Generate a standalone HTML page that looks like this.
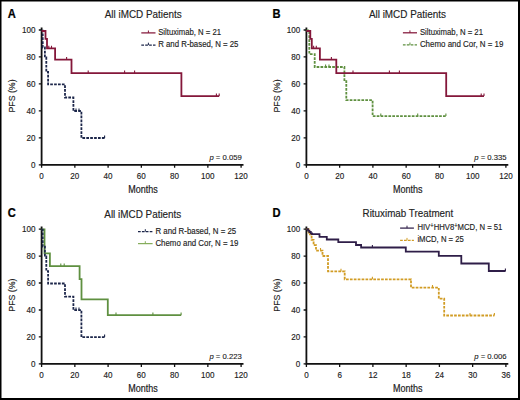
<!DOCTYPE html>
<html><head><meta charset="utf-8"><style>
html,body{margin:0;padding:0;background:#fff;}
svg{display:block;}
text{font-family:"Liberation Sans",sans-serif;fill:#222;stroke:#222;stroke-width:0.15px;}
.tk{font-size:8.8px;}
.lg{font-size:8.8px;}
.pv{font-size:8.0px;stroke-width:0.12px;}
.tt{font-size:10.8px;}
.ax{font-size:10.2px;stroke-width:0.2px;}
.ax2{font-size:9.6px;stroke-width:0.15px;}
.pl{font-size:12.4px;font-weight:bold;fill:#000;stroke:#000;stroke-width:0.25px;}
</style></head><body>
<svg width="520" height="400" viewBox="0 0 520 400">
<rect x="0" y="0" width="520" height="400" fill="#fff"/>
<text transform="translate(7.7 17.6) scale(0.9 1)" class="pl">A</text>
<text x="143.2" y="18.2" class="tt" text-anchor="middle" textLength="77" lengthAdjust="spacingAndGlyphs">All iMCD Patients</text>
<path d="M41.6 27.4 V164.8 H243.5" fill="none" stroke="#111" stroke-width="1.8"/>
<path d="M38.8 164.8 H41.6 M38.8 137.84 H41.6 M38.8 110.88 H41.6 M38.8 83.92 H41.6 M38.8 56.96 H41.6 M38.8 30 H41.6 M41.6 164.8 V167.8 M74.85 164.8 V167.8 M108.1 164.8 V167.8 M141.35 164.8 V167.8 M174.6 164.8 V167.8 M207.85 164.8 V167.8 M241.1 164.8 V167.8 " stroke="#111" stroke-width="1.3" fill="none"/>
<text transform="translate(35.4 167.8) scale(0.92 1)" class="tk" text-anchor="end">0</text>
<text transform="translate(35.4 140.84) scale(0.92 1)" class="tk" text-anchor="end">20</text>
<text transform="translate(35.4 113.88) scale(0.92 1)" class="tk" text-anchor="end">40</text>
<text transform="translate(35.4 86.92) scale(0.92 1)" class="tk" text-anchor="end">60</text>
<text transform="translate(35.4 59.96) scale(0.92 1)" class="tk" text-anchor="end">80</text>
<text transform="translate(35.4 33) scale(0.92 1)" class="tk" text-anchor="end">100</text>
<text transform="translate(41.6 178.8) scale(0.92 1)" class="tk" text-anchor="middle">0</text>
<text transform="translate(74.85 178.8) scale(0.92 1)" class="tk" text-anchor="middle">20</text>
<text transform="translate(108.1 178.8) scale(0.92 1)" class="tk" text-anchor="middle">40</text>
<text transform="translate(141.35 178.8) scale(0.92 1)" class="tk" text-anchor="middle">60</text>
<text transform="translate(174.6 178.8) scale(0.92 1)" class="tk" text-anchor="middle">80</text>
<text transform="translate(207.85 178.8) scale(0.92 1)" class="tk" text-anchor="middle">100</text>
<text transform="translate(241.1 178.8) scale(0.92 1)" class="tk" text-anchor="middle">120</text>
<text x="143" y="193" class="ax" text-anchor="middle" textLength="29.5" lengthAdjust="spacingAndGlyphs">Months</text>
<text transform="translate(15.4 96) rotate(-90)" class="ax2" text-anchor="middle" textLength="33.2" lengthAdjust="spacingAndGlyphs">PFS (%)</text>
<text x="241.8" y="160.2" class="pv" text-anchor="end" textLength="32.4" lengthAdjust="spacingAndGlyphs"><tspan font-style="italic">p</tspan> = 0.059</text>
<path d="M41.6 30.6 L42.7 30.6 L42.7 47.5 L44.9 47.5 L44.9 57.3 L46.3 57.3 L46.3 72 L48.1 72 L48.1 84.4 L65 84.4 L65 97.5 L73.4 97.5 L73.4 111 L81.4 111 L81.4 138 L105 138" fill="none" stroke="#1c264a" stroke-width="1.8" stroke-dasharray="2.7 1.2"/>
<path d="M76 111 V108.4 M79 111 V108.4 M104.6 138 V135.4 " fill="none" stroke="#1c264a" stroke-width="1.1"/>
<path d="M41.6 31 L45.5 31 L45.5 38.9 L47 38.9 L47 48.3 L55.1 48.3 L55.1 59.6 L71.5 59.6 L71.5 73.1 L181.4 73.1 L181.4 96.1 L219.2 96.1" fill="none" stroke="#84173a" stroke-width="1.8"/>
<path d="M48.8 48.3 V45.7 M51.5 48.3 V45.7 M66.6 59.6 V57 M88.2 73.1 V70.5 M124.6 73.1 V70.5 M134.6 73.1 V70.5 M216.4 96.1 V93.5 M219.2 96.1 V93.5 " fill="none" stroke="#84173a" stroke-width="1.1"/>
<path d="M141.3 32.9 H155.5" stroke="#84173a" stroke-width="1.25"/>
<path d="M148.4 32.9 V30.5" stroke="#84173a" stroke-width="1"/>
<text x="158.2" y="35" class="lg" textLength="62.8" lengthAdjust="spacingAndGlyphs">Siltuximab, N = 21</text>
<path d="M141.3 45.1 H155.5" stroke="#1c264a" stroke-width="1.25" stroke-dasharray="2.7 1.2"/>
<path d="M148.4 45.1 V42.7" stroke="#1c264a" stroke-width="1"/>
<text x="158.2" y="47.2" class="lg" textLength="80.3" lengthAdjust="spacingAndGlyphs">R and R-based, N = 25</text>
<text transform="translate(272.6 17.6) scale(0.9 1)" class="pl">B</text>
<text x="407.4" y="18.2" class="tt" text-anchor="middle" textLength="77" lengthAdjust="spacingAndGlyphs">All iMCD Patients</text>
<path d="M306.4 27.4 V164.8 H508.3" fill="none" stroke="#111" stroke-width="1.8"/>
<path d="M303.6 164.8 H306.4 M303.6 137.84 H306.4 M303.6 110.88 H306.4 M303.6 83.92 H306.4 M303.6 56.96 H306.4 M303.6 30 H306.4 M306.4 164.8 V167.8 M339.65 164.8 V167.8 M372.9 164.8 V167.8 M406.15 164.8 V167.8 M439.4 164.8 V167.8 M472.65 164.8 V167.8 M505.9 164.8 V167.8 " stroke="#111" stroke-width="1.3" fill="none"/>
<text transform="translate(300.2 167.8) scale(0.92 1)" class="tk" text-anchor="end">0</text>
<text transform="translate(300.2 140.84) scale(0.92 1)" class="tk" text-anchor="end">20</text>
<text transform="translate(300.2 113.88) scale(0.92 1)" class="tk" text-anchor="end">40</text>
<text transform="translate(300.2 86.92) scale(0.92 1)" class="tk" text-anchor="end">60</text>
<text transform="translate(300.2 59.96) scale(0.92 1)" class="tk" text-anchor="end">80</text>
<text transform="translate(300.2 33) scale(0.92 1)" class="tk" text-anchor="end">100</text>
<text transform="translate(306.4 178.8) scale(0.92 1)" class="tk" text-anchor="middle">0</text>
<text transform="translate(339.65 178.8) scale(0.92 1)" class="tk" text-anchor="middle">20</text>
<text transform="translate(372.9 178.8) scale(0.92 1)" class="tk" text-anchor="middle">40</text>
<text transform="translate(406.15 178.8) scale(0.92 1)" class="tk" text-anchor="middle">60</text>
<text transform="translate(439.4 178.8) scale(0.92 1)" class="tk" text-anchor="middle">80</text>
<text transform="translate(472.65 178.8) scale(0.92 1)" class="tk" text-anchor="middle">100</text>
<text transform="translate(505.9 178.8) scale(0.92 1)" class="tk" text-anchor="middle">120</text>
<text x="407.8" y="193" class="ax" text-anchor="middle" textLength="29.5" lengthAdjust="spacingAndGlyphs">Months</text>
<text transform="translate(280.2 96) rotate(-90)" class="ax2" text-anchor="middle" textLength="33.2" lengthAdjust="spacingAndGlyphs">PFS (%)</text>
<text x="506.6" y="160.2" class="pv" text-anchor="end" textLength="32.4" lengthAdjust="spacingAndGlyphs"><tspan font-style="italic">p</tspan> = 0.335</text>
<path d="M306.4 30.4 L309.3 30.4 L309.3 54.2 L314.7 54.2 L314.7 67 L344.4 67 L344.4 80 L346.3 80 L346.3 100.2 L372.6 100.2 L372.6 116.1 L445.9 116.1" fill="none" stroke="#5f9040" stroke-width="1.8" stroke-dasharray="2.7 1.2"/>
<path d="M325.6 67 V64.4 M329 67 V64.4 M380.8 116.1 V113.5 M417.7 116.1 V113.5 M445.9 116.1 V113.5 " fill="none" stroke="#5f9040" stroke-width="1.1"/>
<path d="M306.4 31 L310.3 31 L310.3 38.9 L311.8 38.9 L311.8 48.3 L319.9 48.3 L319.9 59.6 L336.3 59.6 L336.3 73.1 L446.2 73.1 L446.2 96.1 L484 96.1" fill="none" stroke="#84173a" stroke-width="1.8"/>
<path d="M313.6 48.3 V45.7 M316.3 48.3 V45.7 M331.4 59.6 V57 M353 73.1 V70.5 M389.4 73.1 V70.5 M399.4 73.1 V70.5 M481.2 96.1 V93.5 M484 96.1 V93.5 " fill="none" stroke="#84173a" stroke-width="1.1"/>
<path d="M402.9 32.8 H417" stroke="#84173a" stroke-width="1.25"/>
<path d="M409.95 32.8 V30.4" stroke="#84173a" stroke-width="1"/>
<text x="419.9" y="34.9" class="lg" textLength="63.1" lengthAdjust="spacingAndGlyphs">Siltuximab, N = 21</text>
<path d="M402.9 44.9 H417" stroke="#5f9040" stroke-width="1.25" stroke-dasharray="2.7 1.2"/>
<path d="M409.95 44.9 V42.5" stroke="#5f9040" stroke-width="1"/>
<text x="419.9" y="47" class="lg" textLength="83.5" lengthAdjust="spacingAndGlyphs">Chemo and Cor, N = 19</text>
<text transform="translate(7.8 216.7) scale(0.9 1)" class="pl">C</text>
<text x="142.8" y="217.7" class="tt" text-anchor="middle" textLength="77" lengthAdjust="spacingAndGlyphs">All iMCD Patients</text>
<path d="M41.6 226.5 V363.9 H243.5" fill="none" stroke="#111" stroke-width="1.8"/>
<path d="M38.8 363.9 H41.6 M38.8 336.94 H41.6 M38.8 309.98 H41.6 M38.8 283.02 H41.6 M38.8 256.06 H41.6 M38.8 229.1 H41.6 M41.6 363.9 V366.9 M74.85 363.9 V366.9 M108.1 363.9 V366.9 M141.35 363.9 V366.9 M174.6 363.9 V366.9 M207.85 363.9 V366.9 M241.1 363.9 V366.9 " stroke="#111" stroke-width="1.3" fill="none"/>
<text transform="translate(35.4 366.9) scale(0.92 1)" class="tk" text-anchor="end">0</text>
<text transform="translate(35.4 339.94) scale(0.92 1)" class="tk" text-anchor="end">20</text>
<text transform="translate(35.4 312.98) scale(0.92 1)" class="tk" text-anchor="end">40</text>
<text transform="translate(35.4 286.02) scale(0.92 1)" class="tk" text-anchor="end">60</text>
<text transform="translate(35.4 259.06) scale(0.92 1)" class="tk" text-anchor="end">80</text>
<text transform="translate(35.4 232.1) scale(0.92 1)" class="tk" text-anchor="end">100</text>
<text transform="translate(41.6 377.9) scale(0.92 1)" class="tk" text-anchor="middle">0</text>
<text transform="translate(74.85 377.9) scale(0.92 1)" class="tk" text-anchor="middle">20</text>
<text transform="translate(108.1 377.9) scale(0.92 1)" class="tk" text-anchor="middle">40</text>
<text transform="translate(141.35 377.9) scale(0.92 1)" class="tk" text-anchor="middle">60</text>
<text transform="translate(174.6 377.9) scale(0.92 1)" class="tk" text-anchor="middle">80</text>
<text transform="translate(207.85 377.9) scale(0.92 1)" class="tk" text-anchor="middle">100</text>
<text transform="translate(241.1 377.9) scale(0.92 1)" class="tk" text-anchor="middle">120</text>
<text x="143" y="392.1" class="ax" text-anchor="middle" textLength="29.5" lengthAdjust="spacingAndGlyphs">Months</text>
<text transform="translate(15.4 295.1) rotate(-90)" class="ax2" text-anchor="middle" textLength="33.2" lengthAdjust="spacingAndGlyphs">PFS (%)</text>
<text x="241.8" y="359.3" class="pv" text-anchor="end" textLength="32.4" lengthAdjust="spacingAndGlyphs"><tspan font-style="italic">p</tspan> = 0.223</text>
<path d="M41.6 229.5 L44.5 229.5 L44.5 253.3 L49.9 253.3 L49.9 266.1 L79.6 266.1 L79.6 279.1 L81.5 279.1 L81.5 299.3 L107.8 299.3 L107.8 315.2 L181.1 315.2" fill="none" stroke="#5f9040" stroke-width="1.8"/>
<path d="M60.8 266.1 V263.5 M64.2 266.1 V263.5 M116 315.2 V312.6 M152.9 315.2 V312.6 M181.1 315.2 V312.6 " fill="none" stroke="#5f9040" stroke-width="1.1"/>
<path d="M41.6 229.7 L42.7 229.7 L42.7 246.6 L44.9 246.6 L44.9 256.4 L46.3 256.4 L46.3 271.1 L48.1 271.1 L48.1 283.5 L65 283.5 L65 296.6 L73.4 296.6 L73.4 310.1 L81.4 310.1 L81.4 337.1 L105 337.1" fill="none" stroke="#1c264a" stroke-width="1.8" stroke-dasharray="2.7 1.2"/>
<path d="M76 310.1 V307.5 M79 310.1 V307.5 M104.6 337.1 V334.5 " fill="none" stroke="#1c264a" stroke-width="1.1"/>
<path d="M138 231.6 H152.6" stroke="#1c264a" stroke-width="1.25" stroke-dasharray="2.7 1.2"/>
<path d="M145.3 231.6 V229.2" stroke="#1c264a" stroke-width="1"/>
<text x="155.4" y="233.7" class="lg" textLength="80.8" lengthAdjust="spacingAndGlyphs">R and R-based, N = 25</text>
<path d="M138 243.6 H152.6" stroke="#86ad5c" stroke-width="1.25"/>
<path d="M145.3 243.6 V241.2" stroke="#86ad5c" stroke-width="1"/>
<text x="155.4" y="245.7" class="lg" textLength="83.1" lengthAdjust="spacingAndGlyphs">Chemo and Cor, N = 19</text>
<text transform="translate(272.4 216.7) scale(0.9 1)" class="pl">D</text>
<text x="407.9" y="217.3" class="tt" text-anchor="middle" textLength="90.7" lengthAdjust="spacingAndGlyphs">Rituximab Treatment</text>
<path d="M306.4 226.5 V363.9 H508.3" fill="none" stroke="#111" stroke-width="1.8"/>
<path d="M303.6 363.9 H306.4 M303.6 336.94 H306.4 M303.6 309.98 H306.4 M303.6 283.02 H306.4 M303.6 256.06 H306.4 M303.6 229.1 H306.4 M306.4 363.9 V366.9 M339.65 363.9 V366.9 M372.9 363.9 V366.9 M406.15 363.9 V366.9 M439.4 363.9 V366.9 M472.65 363.9 V366.9 M505.9 363.9 V366.9 " stroke="#111" stroke-width="1.3" fill="none"/>
<text transform="translate(300.2 366.9) scale(0.92 1)" class="tk" text-anchor="end">0</text>
<text transform="translate(300.2 339.94) scale(0.92 1)" class="tk" text-anchor="end">20</text>
<text transform="translate(300.2 312.98) scale(0.92 1)" class="tk" text-anchor="end">40</text>
<text transform="translate(300.2 286.02) scale(0.92 1)" class="tk" text-anchor="end">60</text>
<text transform="translate(300.2 259.06) scale(0.92 1)" class="tk" text-anchor="end">80</text>
<text transform="translate(300.2 232.1) scale(0.92 1)" class="tk" text-anchor="end">100</text>
<text transform="translate(306.4 377.9) scale(0.92 1)" class="tk" text-anchor="middle">0</text>
<text transform="translate(339.65 377.9) scale(0.92 1)" class="tk" text-anchor="middle">6</text>
<text transform="translate(372.9 377.9) scale(0.92 1)" class="tk" text-anchor="middle">12</text>
<text transform="translate(406.15 377.9) scale(0.92 1)" class="tk" text-anchor="middle">18</text>
<text transform="translate(439.4 377.9) scale(0.92 1)" class="tk" text-anchor="middle">24</text>
<text transform="translate(472.65 377.9) scale(0.92 1)" class="tk" text-anchor="middle">30</text>
<text transform="translate(505.9 377.9) scale(0.92 1)" class="tk" text-anchor="middle">36</text>
<text x="407.8" y="392.1" class="ax" text-anchor="middle" textLength="29.5" lengthAdjust="spacingAndGlyphs">Months</text>
<text transform="translate(280.2 295.1) rotate(-90)" class="ax2" text-anchor="middle" textLength="33.2" lengthAdjust="spacingAndGlyphs">PFS (%)</text>
<text x="506.6" y="359.3" class="pv" text-anchor="end" textLength="32.4" lengthAdjust="spacingAndGlyphs"><tspan font-style="italic">p</tspan> = 0.006</text>
<path d="M306.4 229.2 L308.6 229.2 L308.6 234.4 L311.6 234.4 L311.6 239.8 L313.6 239.8 L313.6 245.2 L316 245.2 L316 250.6 L322.5 250.6 L322.5 256 L328 256 L328 271.4 L344.7 271.4 L344.7 279.3 L411 279.3 L411 287.6 L438.8 287.6 L438.8 298.6 L444.2 298.6 L444.2 315.5 L494.4 315.5" fill="none" stroke="#d19c24" stroke-width="1.8" stroke-dasharray="2.7 1.2"/>
<path d="M320.5 250.6 V248 M341 271.4 V268.8 M372.4 279.3 V276.7 M432.5 287.6 V285 M470 315.5 V312.9 M494.4 315.5 V312.9 " fill="none" stroke="#d19c24" stroke-width="1.1"/>
<path d="M306.4 229.2 L308 229.2 L308 230.6 L309.4 230.6 L309.4 232 L310.8 232 L310.8 233.4 L312 233.4 L312 234.2 L319.5 234.2 L319.5 236.8 L326.8 236.8 L326.8 239.5 L338.3 239.5 L338.3 242.1 L356 242.1 L356 245 L361.1 245 L361.1 247.5 L405.8 247.5 L405.8 251.6 L438.8 251.6 L438.8 255.8 L461.3 255.8 L461.3 263.5 L488.8 263.5 L488.8 271 L505.6 271" fill="none" stroke="#2f1e48" stroke-width="1.8"/>
<path d="M372.4 247.5 V244.9 M505.4 271 V268.4 " fill="none" stroke="#2f1e48" stroke-width="1.1"/>
<path d="M400.1 228.1 H413.9" stroke="#2f1e48" stroke-width="1.25"/>
<path d="M407 228.1 V225.7" stroke="#2f1e48" stroke-width="1"/>
<text x="417.4" y="230.2" class="lg" textLength="85" lengthAdjust="spacingAndGlyphs">HIV<tspan dy="-2.6" font-size="6.6">+</tspan><tspan dy="2.6">HHV8</tspan><tspan dy="-2.6" font-size="6.6">+</tspan><tspan dy="2.6">MCD, N = 51</tspan></text>
<path d="M400.1 240.3 H413.9" stroke="#d19c24" stroke-width="1.25" stroke-dasharray="2.7 1.2"/>
<path d="M407 240.3 V237.9" stroke="#d19c24" stroke-width="1"/>
<text x="417.4" y="242.4" class="lg" textLength="46.4" lengthAdjust="spacingAndGlyphs">iMCD, N = 25</text>
<path d="M0.75 0 V400 M0 0.7 H520" stroke="#000" stroke-width="1.5"/>
<path d="M519 0 V400 M0 399 H520" stroke="#000" stroke-width="2"/>
</svg>
</body></html>
